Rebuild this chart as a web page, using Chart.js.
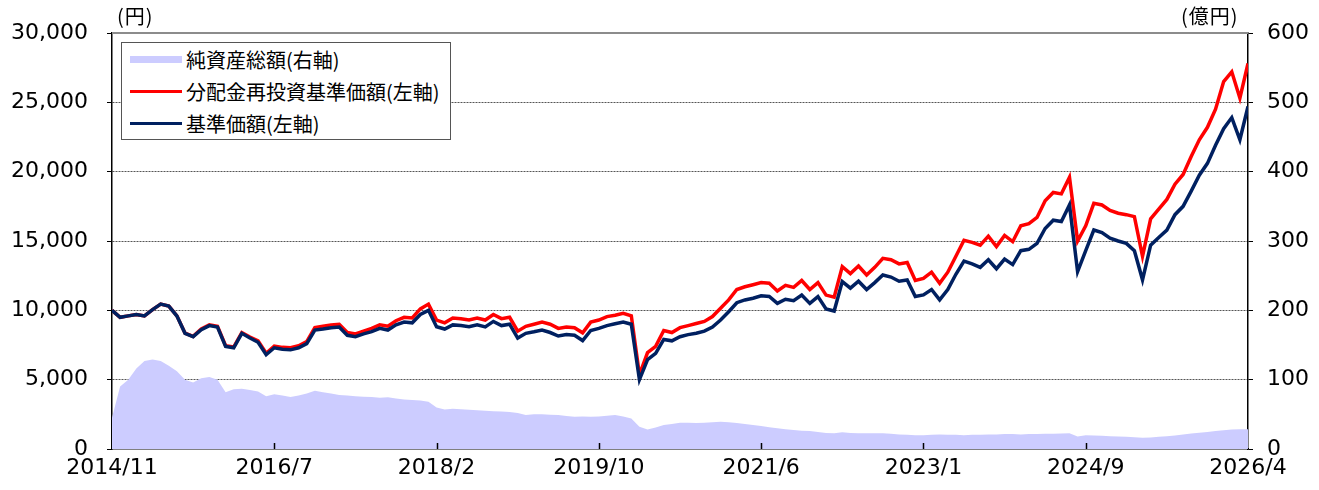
<!DOCTYPE html>
<html lang="ja">
<head>
<meta charset="utf-8">
<script src="https://cdn.jsdelivr.net/npm/chart.js@4.4.1/dist/chart.umd.min.js"></script>
<style>
  body { margin: 0; background: #fff; }
  #wrap { position: relative; width: 1319px; height: 490px; }
  .unit { position: absolute; font-family: "Noto Sans CJK JP", sans-serif; font-size: 20px; color: #000; line-height: 1; letter-spacing: 1px; }
  #legend { position: absolute; left: 121px; top: 42px; width: 330px; height: 98px; border: 1.5px solid #555; background: #fff; box-sizing: border-box; font-family: "Noto Sans CJK JP", sans-serif; font-size: 20px; color: #000; }
  .item { position: absolute; left: 8px; height: 24px; line-height: 24px; white-space: nowrap; }
  .sw { position: absolute; left: 0; width: 52px; }
  .lbl { position: absolute; left: 56px; top: 0; }
</style>
</head>
<body>
<div id="wrap">
  <canvas id="chart" width="1319" height="490"></canvas>
  <div class="unit" style="left:117px; top:6px;">(円)</div>
  <div class="unit" style="left:1181px; top:6px;">(億円)</div>
  <div id="legend">
    <div class="item" style="top:5px;"><div class="sw" style="top:8px; height:7px; background:#CCCCFF;"></div><span class="lbl">純資産総額(右軸)</span></div>
    <div class="item" style="top:37px;"><div class="sw" style="top:10px; height:3px; background:#FF0000;"></div><span class="lbl">分配金再投資基準価額(左軸)</span></div>
    <div class="item" style="top:69px;"><div class="sw" style="top:10px; height:3px; background:#002060;"></div><span class="lbl">基準価額(左軸)</span></div>
  </div>
</div>
<script>
// tick labels along the bottom, one every 20 sample steps
const tickLabels = ["2014/11", "2016/7", "2018/2", "2019/10", "2021/6", "2023/1", "2024/9", "2026/4"];

// 基準価額 (円), 141 samples from 2014/11 to 2026/4
const navValues = [
  10000, 9500, 9600, 9700, 9600, 10050, 10450, 10300, 9590, 8340,
  8100, 8600, 8900, 8800, 7400, 7300, 8340, 8000, 7700, 6800,
  7300, 7200, 7150, 7300, 7600, 8580, 8650, 8750, 8800, 8200,
  8100, 8300, 8460, 8700, 8580, 8950, 9150, 9100, 9700, 10000,
  8820, 8650, 8950, 8900, 8820, 8950, 8800, 9200, 8900, 9000,
  8000, 8340, 8450, 8580, 8400, 8150, 8250, 8200, 7820, 8550,
  8700, 8900, 9030, 9150, 9000, 5000, 6450, 6900, 7900, 7800,
  8100, 8250, 8350, 8500, 8800, 9300, 9900, 10550, 10750, 10870,
  11050, 11000, 10500, 10800, 10700, 11100, 10500, 10990, 10100, 9950,
  12070, 11600, 12100, 11500, 12000, 12550, 12400, 12100, 12190, 11000,
  11110, 11500, 10750, 11500, 12600, 13550, 13350, 13100, 13650, 13000,
  13700, 13300, 14300, 14400, 14830, 15900, 16500, 16400, 17600, 12790,
  14300, 15790, 15600, 15200, 15000, 14830, 14300, 12200, 14700, 15250,
  15790, 16900, 17500, 18600, 19750, 20600, 21900, 23100, 23900, 22300,
  24700
];

// 分配金再投資基準価額 (円)
const reinvestValues = [
  10000, 9500, 9600, 9700, 9600, 10050, 10450, 10300, 9600, 8350,
  8120, 8650, 8950, 8850, 7450, 7350, 8400, 8080, 7800, 6900,
  7420, 7330, 7300, 7450, 7750, 8750, 8850, 8950, 9000, 8400,
  8300, 8500, 8700, 8950, 8850, 9250, 9500, 9450, 10100, 10450,
  9300, 9100, 9450, 9400, 9300, 9450, 9300, 9700, 9400, 9500,
  8500, 8850, 9000, 9150, 9000, 8700, 8800, 8750, 8380, 9150,
  9300, 9550, 9650, 9780, 9600, 5350, 6950, 7400, 8550, 8400,
  8750, 8900, 9050, 9200, 9550, 10150, 10750, 11500, 11700, 11850,
  12000, 11950, 11400, 11800, 11650, 12150, 11500, 12000, 11100, 10950,
  13150, 12650, 13200, 12550, 13100, 13750, 13650, 13350, 13450, 12150,
  12300, 12750, 11950, 12750, 13900, 15050, 14900, 14700, 15350, 14600,
  15400, 14950, 16100, 16250, 16700, 17900, 18500, 18400, 19600, 15000,
  16100, 17720, 17600, 17200, 17000, 16900, 16760, 13900, 16600, 17300,
  18000, 19100, 19800, 21100, 22300, 23200, 24500, 26500, 27200, 25300,
  27800
];

// 純資産総額 (億円)
const assetValues = [
  45, 90, 100, 116, 127, 129, 127, 120, 112, 100,
  96, 102, 104, 100, 82, 86, 87, 85, 83, 76,
  79, 77, 75, 77, 80, 84, 82, 80, 78, 77,
  76, 75.5, 75, 74, 74.5, 73, 71.5, 70.5, 70, 68,
  60, 57, 58, 57.5, 56.5, 56, 55, 54.5, 54, 53.5,
  52, 49, 50, 50, 49.5, 49, 47.5, 46.6, 47, 46.5,
  47, 48, 49, 47, 44, 32, 28, 31, 34.5, 36,
  38, 38, 37.5, 38, 38.5, 39.4, 38.5, 37.5, 36, 34.5,
  33, 31.5, 30, 28.4, 27.5, 26.5, 26, 24.5, 23, 22.6,
  24, 23, 22.6, 22.6, 22.6, 22.6, 22, 21, 20.5, 20,
  20, 20.5, 21, 20.5, 20.5, 20, 20.5, 20.5, 21, 21,
  21.5, 21.5, 21, 21.5, 21.5, 22, 22, 22.5, 22.6, 18,
  20, 19.5, 19, 18.5, 18, 17.5, 17, 16.3, 16.5, 17.5,
  18.5, 19.5, 21, 22.5, 23.5, 24.5, 26, 27, 28, 28.4,
  28.4
];

const steps = navValues.map((v, i) => i);
const tickFont = { family: "DejaVu Sans", size: 22 };

// top frame line and the small upward ticks on the x axis
const framePlugin = {
  id: "frame",
  afterDraw(chart) {
    const { ctx, chartArea } = chart;
    const x = chart.scales.x;
    ctx.save();
    ctx.strokeStyle = "#8c8c8c";
    ctx.lineWidth = 2;
    ctx.beginPath();
    ctx.moveTo(chartArea.left, chartArea.top);
    ctx.lineTo(chartArea.right, chartArea.top);
    ctx.stroke();
    ctx.strokeStyle = "#000";
    ctx.lineWidth = 1.5;
    for (let i = 1; i < tickLabels.length - 1; i++) {
      const px = Math.round(x.getPixelForValue(i * 20)) + 0.5;
      ctx.beginPath();
      ctx.moveTo(px, chartArea.bottom);
      ctx.lineTo(px, chartArea.bottom - 6);
      ctx.stroke();
    }
    ctx.restore();
  }
};

new Chart(document.getElementById("chart"), {
  type: "line",
  data: {
    labels: steps,
    datasets: [
      {
        label: "基準価額(左軸)",
        data: navValues,
        borderColor: "#002060",
        borderWidth: 3.5,
        pointRadius: 0,
        yAxisID: "y",
        order: 1
      },
      {
        label: "分配金再投資基準価額(左軸)",
        data: reinvestValues,
        borderColor: "#FF0000",
        borderWidth: 3.5,
        pointRadius: 0,
        yAxisID: "y",
        order: 2
      },
      {
        label: "純資産総額(右軸)",
        data: assetValues,
        borderWidth: 0,
        borderColor: "rgba(0,0,0,0)",
        backgroundColor: "#CCCCFF",
        fill: "origin",
        pointRadius: 0,
        yAxisID: "y1",
        order: 3
      }
    ]
  },
  options: {
    responsive: false,
    animation: false,
    devicePixelRatio: 1,
    layout: { padding: { top: 33, left: 0, right: 0, bottom: 0 } },
    plugins: { legend: { display: false }, tooltip: { enabled: false } },
    scales: {
      x: {
        type: "linear",
        min: 0,
        max: 140,
        afterFit: (s) => { s.height = 41; },
        grid: { display: false, drawTicks: false },
        border: { display: true, color: "#000", width: 1.5 },
        ticks: {
          stepSize: 20,
          autoSkip: false,
          maxRotation: 0,
          padding: 6,
          color: "#000",
          font: tickFont,
          callback: (v) => tickLabels[v / 20]
        }
      },
      y: {
        position: "left",
        min: 0,
        max: 30000,
        afterFit: (s) => { s.width = 112; },
        grid: {
          color: (c) => (c.tick.value === 0 || c.tick.value === 30000) ? "rgba(0,0,0,0)" : "#555",
          tickColor: "#000",
          tickLength: 5,
          lineWidth: 1
        },
        border: { display: true, color: "#000", width: 1.5, dash: [2, 1] },
        ticks: {
          stepSize: 5000,
          padding: 19,
          color: "#000",
          font: tickFont,
          callback: (v) => v.toLocaleString("en-US")
        }
      },
      y1: {
        position: "right",
        min: 0,
        max: 600,
        afterFit: (s) => { s.width = 71; },
        grid: { drawOnChartArea: false, tickColor: "#000", tickLength: 5 },
        border: { display: true, color: "#000", width: 1.5 },
        ticks: {
          stepSize: 100,
          padding: 14,
          color: "#000",
          font: tickFont
        }
      }
    }
  },
  plugins: [framePlugin]
});
</script>
</body>
</html>
